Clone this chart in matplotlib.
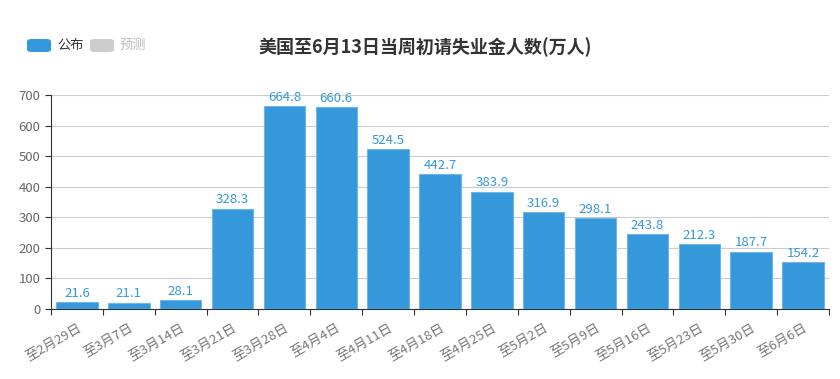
import matplotlib
matplotlib.use("Agg")
import matplotlib.pyplot as plt
from matplotlib.patches import FancyBboxPatch

plt.rcParams['font.family'] = ['Noto Sans CJK SC', 'DejaVu Sans']

# data
weeks = ["至2月29日", "至3月7日", "至3月14日", "至3月21日", "至3月28日",
         "至4月4日", "至4月11日", "至4月18日", "至4月25日", "至5月2日",
         "至5月9日", "至5月16日", "至5月23日", "至5月30日", "至6月6日"]
claims = [21.6, 21.1, 28.1, 328.3, 664.8, 660.6, 524.5, 442.7, 383.9, 316.9,
          298.1, 243.8, 212.3, 187.7, 154.2]
y_ticks = [0, 100, 200, 300, 400, 500, 600, 700]

BLUE = "#3498db"

fig = plt.figure(figsize=(8.4, 3.79), dpi=100)
ax = fig.add_axes([51 / 840, 1 - 309 / 379, 778 / 840, 214 / 379])

x = list(range(len(weeks)))
ax.bar(x, claims, width=0.8, color=BLUE, edgecolor="#6fb6e8", linewidth=0.8, zorder=3)
for xi, v in zip(x, claims):
    ax.text(xi, v + 7, f"{v}", ha="center", va="bottom", color=BLUE, fontsize=9.5)

ax.set_xlim(-0.5, len(weeks) - 0.5)
ax.set_ylim(0, 700)
ax.set_yticks(y_ticks)
ax.yaxis.grid(True, color="#cccccc", linewidth=0.8, zorder=0)
ax.tick_params(axis="y", colors="#333333", labelcolor="#666666", labelsize=9.5, length=4)

# category boundary ticks, labels centred under bars
ax.set_xticks([i - 0.5 for i in range(len(weeks) + 1)])
ax.set_xticklabels([])
ax.tick_params(axis="x", which="major", length=4, color="#333333")
ax.set_xticks(x, minor=True)
ax.set_xticklabels(weeks, minor=True, rotation=30, ha="right", rotation_mode="anchor",
                   color="#777777", fontsize=9.5)
ax.tick_params(axis="x", which="minor", length=0, pad=9)

for side in ["top", "right"]:
    ax.spines[side].set_visible(False)
ax.spines["left"].set_color("#333333")
ax.spines["bottom"].set_color("#333333")

fig.text(425 / 840, 1 - 47 / 379, "美国至6月13日当周初请失业金人数(万人)", ha="center", va="center",
         fontsize=13, fontweight="bold", color="#333333")

# legend
for x0, col, label, tcol in [(27, BLUE, "公布", "#333333"), (90, "#cccccc", "预测", "#bbbbbb")]:
    fig.patches.append(FancyBboxPatch((x0 / 840, 1 - 52 / 379), 24 / 840, 13 / 379,
                                      boxstyle="round,pad=0,rounding_size=0.006",
                                      transform=fig.transFigure, facecolor=col, edgecolor="none"))
    fig.text((x0 + 30) / 840, 1 - 45 / 379, label, ha="left", va="center", fontsize=9.5, color=tcol)

plt.savefig("out.png", dpi=100)
